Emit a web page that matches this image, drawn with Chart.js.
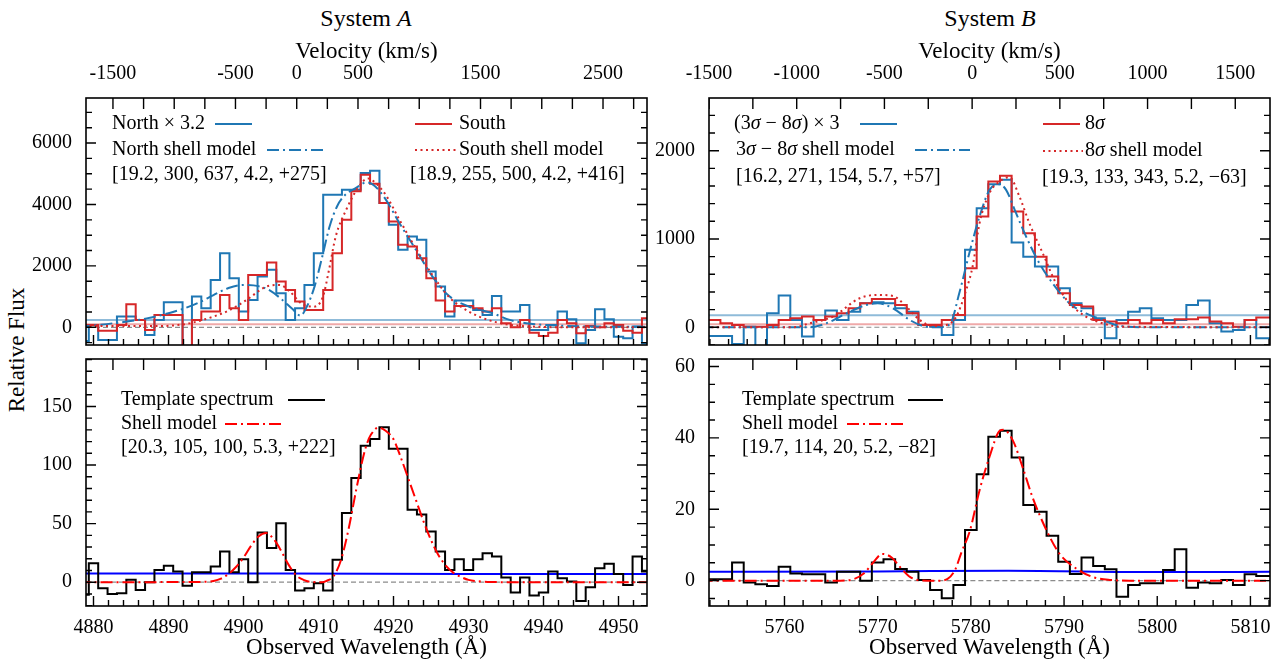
<!DOCTYPE html>
<html>
<head>
<meta charset="utf-8">
<script src="https://cdn.jsdelivr.net/npm/chart.js@4.4.0/dist/chart.umd.min.js"></script>
<style>
  body { margin: 0; background: #fff; width: 1288px; height: 662px; overflow: hidden; position: relative; font-family: 'Liberation Serif', serif; }
  canvas { position: absolute; left: 0; top: 0; }
  .lbl { position: absolute; font-size: 23px; color: #000; white-space: nowrap; transform: translate(-50%, -50%); }
</style>
</head>
<body>
<div class="lbl" style="left:366px;top:18px;font-size:24px">System <i>A</i></div>
<div class="lbl" style="left:990px;top:18px;font-size:24px">System <i>B</i></div>
<div class="lbl" style="left:17px;top:350px;transform:translate(-50%,-50%) rotate(-90deg)">Relative Flux</div>
<canvas id="aTop" width="1288" height="662"></canvas>
<canvas id="aBot" width="1288" height="662"></canvas>
<canvas id="bTop" width="1288" height="662"></canvas>
<canvas id="bBot" width="1288" height="662"></canvas>
<script>
// ---- System A : wavelength bins (1.25 A) ----
const waveA = [4878.75, 4880.00, 4881.25, 4882.50, 4883.75, 4885.00, 4886.25, 4887.50, 4888.75, 4890.00,
  4891.25, 4892.50, 4893.75, 4895.00, 4896.25, 4897.50, 4898.75, 4900.00, 4901.25, 4902.50,
  4903.75, 4905.00, 4906.25, 4907.50, 4908.75, 4910.00, 4911.25, 4912.50, 4913.75, 4915.00,
  4916.25, 4917.50, 4918.75, 4920.00, 4921.25, 4922.50, 4923.75, 4925.00, 4926.25, 4927.50,
  4928.75, 4930.00, 4931.25, 4932.50, 4933.75, 4935.00, 4936.25, 4937.50, 4938.75, 4940.00,
  4941.25, 4942.50, 4943.75, 4945.00, 4946.25, 4947.50, 4948.75, 4950.00, 4951.25, 4952.50,
  4953.75, 4955.00];
const northA = [-450, 76, -413, -413, 348, 348, 238, -250, 238, 815,
  815, -800, 1000, 620, 1544, 2414, 1600, 511, 892, 1653,
  1870, 1109, 239, 620, 1381, 2414, 4318, 4318, 4481, 4481,
  5025, 5100, 4045, 3340, 2523, 2958, 2850, 1816, 1327, 348,
  870, 870, 565, 400, 1022, 511, 511, 729, -87, -87,
  76, 511, 261, -520, -87, 587, 261, -305, -360, 22,
  -520, -520];
const southA = [76, 76, -109, -109, 76, 750, 239, -87, 402, 402,
  402, -800, 239, 511, 511, 1055, 620, 239, 1707, 1707,
  2110, 1490, 1218, 837, 565, 565, 1218, 2414, 3502, 4427,
  4970, 4677, 4046, 3448, 2686, 2632, 2251, 1599, 870, 511,
  696, 696, 620, 511, 620, 130, 0, 239, -174, -283,
  -174, 239, 130, -196, 43, 0, 130, 76, -109, -174,
  294, 294];
const templateA = [-10.8, 16.2, -5.1, -10, -9.4, 2.0, -6.6, 0, 10.5, 14,
  9.1, -3.1, 8.5, 8.5, 13.4, 26.2, 8.5, 19.7, 0, 42.5,
  29.1, 50.4, 10.5, -7.1, -5.1, -0.9, -7.1, 19.1, 59, 88.9,
  116.5, 122.2, 132.2, 114, 114, 61.8, 57.8, 43.3, 26.2, 10.5,
  19.7, 10.5, 19.7, 24.8, 21.9, 4.0, -8.8, 4.0, -11.4, -8.8,
  9.1, 3.4, 0.6, -16, -4.3, 12, 15.7, 7.1, -2.3, 21.9,
  9.1, 9.1];
const northShellA = [[4878, 10], [4882.6, 130], [4887.1, 290], [4891.5, 565], [4894, 800], [4896, 1050], [4898, 1280],
  [4900, 1380], [4902, 1340], [4903.5, 1200], [4905, 930], [4906.5, 600], [4907.6, 380], [4908.5, 700], [4909.5, 1350],
  [4910.5, 2300], [4911.5, 3300], [4912.5, 3950], [4913.5, 4300], [4915, 4540], [4916.4, 4720], [4917.5, 4600],
  [4919, 4150], [4920.8, 3390], [4923, 2520], [4925.2, 1650], [4927.5, 1000], [4930.1, 670], [4933.2, 460],
  [4935.5, 240], [4937.7, 130], [4940.3, 75], [4945, 30], [4955, 15]];
const southShellA = [[4878, 40], [4889, 40], [4891.5, 80], [4893, 140], [4896, 350], [4898.2, 565], [4900.4, 890],
  [4903.1, 1330], [4904.8, 1380], [4906.2, 1160], [4907.7, 780], [4909.3, 670], [4910.6, 1000], [4911.4, 1870],
  [4912.3, 2960], [4913.7, 3830], [4915.4, 4590], [4916.6, 4850], [4917.6, 4700], [4919, 4300], [4920.8, 3500],
  [4923, 2560], [4925.2, 1700], [4927.5, 960], [4930, 520], [4932.5, 250], [4935, 100], [4938.8, 20],
  [4945, 0], [4955, 0]];
const templShellA = [[4878, 0], [4895, 0.3], [4896, 1], [4897, 3], [4898, 7], [4899, 13], [4900, 21], [4901, 31],
  [4902, 39], [4903, 42], [4904, 37], [4905, 27], [4906, 15], [4907, 6], [4908, 2], [4909, 0.3], [4910.5, 0],
  [4911, 1], [4912, 5], [4913, 19], [4914, 45], [4915, 78], [4916, 108], [4916.5, 119], [4917, 126], [4918, 132],
  [4919, 129], [4920, 122], [4921, 106], [4922, 88], [4923, 70], [4924, 52], [4925, 36], [4926, 23], [4927, 14],
  [4928, 8], [4929, 4.5], [4930, 2], [4931, 1], [4933, 0.2], [4936, 0], [4955, 0]];
const blueContA = [[4878, 7.4], [4905, 7.4], [4930, 7.0], [4955, 7.1]];
const northLevelA = 240, southLevelA = 100;

// ---- System B ----
const waveB = [5751.25, 5752.50, 5753.75, 5755.00, 5756.25, 5757.50, 5758.75, 5760.00, 5761.25, 5762.50,
  5763.75, 5765.00, 5766.25, 5767.50, 5768.75, 5770.00, 5771.25, 5772.50, 5773.75, 5775.00,
  5776.25, 5777.50, 5778.75, 5780.00, 5781.25, 5782.50, 5783.75, 5785.00, 5786.25, 5787.50,
  5788.75, 5790.00, 5791.25, 5792.50, 5793.75, 5795.00, 5796.25, 5797.50, 5798.75, 5800.00,
  5801.25, 5802.50, 5803.75, 5805.00, 5806.25, 5807.50, 5808.75, 5810.00, 5811.25, 5812.50];
const diffB = [-98, -98, -98, -190, 7, -350, 158, 359, 83, -106,
  83, 189, 83, 177, 272, 283, 272, 215, 177, 26,
  7, -87, 83, 877, 1349, 1621, 1670, 960, 800, 687,
  687, 442, 272, 215, 102, -125, 83, 177, 215, 102,
  83, 83, 253, 302, 45, -49, -31, 83, -125, -125];
const sig8B = [83, 83, 45, 26, 7, 7, 26, 83, 102, 121,
  83, 121, 158, 215, 272, 321, 321, 253, 158, 26,
  26, 83, 140, 669, 1254, 1651, 1715, 1311, 1066, 800,
  574, 385, 253, 234, 83, 64, 45, 83, 45, 83,
  45, 91, 91, 110, 64, 45, 7, 83, 110, 110];
const templateB = [0.4, 0.4, 0.4, 5.1, -0.5, -1.0, -1.5, 3.9, 2.0, 1.8,
  1.8, -0.5, 2.5, 2.5, 0, 5.1, 6.0, 3.3, 2.5, 0.2,
  -2.6, -4.9, -1.2, 14.2, 29.8, 40.3, 42, 34.5, 21.2, 19.3,
  12.6, 5.3, 1.9, 6.5, 4.1, 3.2, -4.5, -1.2, -0.7, -0.7,
  3.0, 8.8, -2.0, -0.5, -0.7, 0.2, -1.2, 1.8, 1.3, 1.3];
const diffShellB = [[5751, 0], [5762.7, 0], [5764.5, 45], [5766.65, 158], [5768.8, 253], [5770.0, 272], [5771.64, 215],
  [5773.43, 83], [5774.85, 15], [5776.29, 0], [5777.71, 30], [5778.79, 400], [5779.86, 850], [5780.93, 1254],
  [5782.0, 1556], [5783.07, 1620], [5783.78, 1556], [5784.85, 1292], [5785.93, 1027], [5787.35, 725],
  [5788.78, 498], [5790.57, 272], [5792.35, 158], [5794.14, 83], [5795.57, 26], [5798.42, 0], [5813, 0]];
const sig8ShellB = [[5751, 0], [5761, 0], [5762.7, 45], [5765.2, 121], [5768.07, 329], [5770.22, 366], [5771.64, 355],
  [5773.08, 234], [5774.5, 83], [5775.93, 15], [5777.36, 26], [5778.43, 121], [5779.5, 423], [5780.21, 700],
  [5780.93, 1178], [5782.0, 1519], [5783.07, 1651], [5784.14, 1700], [5785.21, 1481], [5786.28, 1178],
  [5787.71, 839], [5789.14, 498], [5790.57, 272], [5792.35, 121], [5794.14, 45], [5795.92, 7], [5813, 0]];
const templShellB = [[5751, 0], [5766, 0], [5767.5, 0.5], [5768.5, 2], [5769.5, 5], [5770.5, 7.5], [5771.5, 6.5],
  [5772.5, 3.5], [5773.5, 1], [5774.5, 0.1], [5776.5, 0], [5777.5, 0.5], [5778.3, 3], [5779, 8], [5779.9, 14],
  [5780.9, 25], [5782, 34.7], [5783.1, 42], [5783.5, 42.3], [5784.5, 39.3], [5785.6, 31.4], [5786.6, 23.5],
  [5788.1, 14.2], [5789.5, 7.6], [5791.3, 3.4], [5793, 1.1], [5795, 0.2], [5797, 0], [5813, 0]];
const blueContB = [[5751, 2.5], [5770, 2.6], [5784, 2.8], [5800, 2.4], [5813, 2.5]];
const diffLevelB = 135, sig8LevelB = 35;

// ---- axes ----
const waveRangeA = [4879.0, 4953.8], waveRangeB = [5751.9, 5812.1];
const velRangeA = [-1720, 2859], velRangeB = [-1500, 1698];
const waveTicksA = [4880, 4890, 4900, 4910, 4920, 4930, 4940, 4950];
const waveTicksB = [5760, 5770, 5780, 5790, 5800, 5810];
const velTicksA = [-1500, -500, 0, 500, 1500, 2500];
const velTicksB = [-1500, -1000, -500, 0, 500, 1000, 1500];
const fluxTicksATop = [0, 2000, 4000, 6000], fluxTicksABot = [0, 50, 100, 150];
const fluxTicksBTop = [0, 1000, 2000], fluxTicksBBot = [0, 20, 40, 60];

const FONT = "'Liberation Serif', serif";
Chart.defaults.font.family = FONT;
Chart.defaults.color = '#000';
const BLUE = '#1f77b4', RED = '#d62728';
const DASHDOT = [12, 4, 2, 4], DOT = [2, 3.5];
const AREA_W = 561, AREA_H = 247;

const pts = (xs, ys) => xs.map((x, i) => ({x, y: ys[i]}));
const pairs = p => p.map(q => ({x: q[0], y: q[1]}));
const flat = (r, y) => [{x: r[0] - 2, y}, {x: r[1] + 2, y}];

function stepDs(xs, ys, color, order) {
  return {data: pts(xs, ys), borderColor: color, borderWidth: 2, stepped: 'middle', pointRadius: 0, order};
}
function curveDs(p, color, dash, order) {
  return {data: pairs(p), borderColor: color, borderWidth: 2, borderDash: dash, pointRadius: 0,
    cubicInterpolationMode: 'monotone', order};
}
function zeroDs(r, order) {
  return {data: flat(r, 0), borderColor: '#8c8c8c', borderWidth: 1.2, borderDash: [5, 3], pointRadius: 0, order};
}
function levelDs(r, y, color, order) {
  return {data: flat(r, y), borderColor: color, borderWidth: 2, pointRadius: 0, order};
}

// inward tick marks on all four sides, as short segments in data units, broken by gaps
function tickDs(o) {
  const [x0, x1] = o.xr, [y0, y1] = o.yr, [v0, v1] = o.vr;
  const ux = (x1 - x0) / AREA_W, uy = (y1 - y0) / AREA_H;
  const d = [];
  for (let k = Math.ceil(x0 / o.xStep); k * o.xStep <= x1; k++) {
    const x = k * o.xStep, len = (k % o.xMajor === 0 ? 10 : 6) * uy;
    d.push({x, y: y0}, {x, y: y0 + len}, {x, y: null});
  }
  for (let k = Math.ceil(v0 / 250); k * 250 <= v1; k++) {
    const x = x0 + (k * 250 - v0) / (v1 - v0) * (x1 - x0);
    d.push({x, y: y1}, {x, y: y1 - 11 * uy}, {x, y: null});
  }
  for (let k = Math.ceil(y0 / o.yStep); k * o.yStep <= y1; k++) {
    const y = k * o.yStep, len = (k % o.yMajor === 0 ? 10 : 6) * ux;
    d.push({x: x0, y}, {x: x0 + len, y}, {x: x0, y: null});
    d.push({x: x1, y}, {x: x1 - len, y}, {x: x1, y: null});
  }
  return {data: d, borderColor: '#000000', borderWidth: 1.4, pointRadius: 0, spanGaps: false, order: -1};
}

// legend text and the box round the plot area
function decorations(items) {
  return {
    id: 'decorations',
    afterDraw(chart) {
      const ctx = chart.ctx;
      const a = chart.chartArea;
      ctx.save();
      ctx.textBaseline = 'middle';
      ctx.textAlign = 'left';
      ctx.fillStyle = '#000';
      for (const it of items) {
        if (it.sample) {
          ctx.strokeStyle = it.sample.color;
          ctx.lineWidth = 2;
          ctx.setLineDash(it.sample.dash);
          ctx.beginPath(); ctx.moveTo(it.sample.x1, it.y); ctx.lineTo(it.sample.x2, it.y); ctx.stroke();
        }
        let x = it.x;
        for (const [txt, ital] of it.parts) {
          ctx.font = (ital ? 'italic ' : '') + '20px ' + FONT;
          ctx.fillText(txt, x, it.y);
          x += ctx.measureText(txt).width;
        }
      }
      ctx.restore();
      ctx.save();
      ctx.setLineDash([]);
      ctx.strokeStyle = '#000000';
      ctx.lineWidth = 1.6;
      ctx.strokeRect(a.left, a.top, a.right - a.left, a.bottom - a.top);
      ctx.restore();
    }
  };
}

function panel(id, o) {
  const top = o.top;
  const [l, t, r, b] = o.area;
  const noComma = v => String(v);
  const datasets = o.datasets.concat([tickDs({xr: o.xr, vr: o.vr, yr: o.yr, ...o.tk})]);
  new Chart(document.getElementById(id), {
    type: 'line',
    data: {datasets},
    options: {
      responsive: false, animation: false, devicePixelRatio: 1, events: [],
      layout: {padding: {left: l - 70, right: 1288 - r, top: top ? t - 62 : t, bottom: top ? 662 - b : 662 - b - 56}},
      plugins: {legend: {display: false}, tooltip: {enabled: false}},
      scales: {
        x: {type: 'linear', min: o.xr[0], max: o.xr[1], display: !top,
          grid: {display: false}, border: {display: false},
          afterBuildTicks: s => { s.ticks = o.xTicks.map(v => ({value: v})); },
          afterFit: s => { s.height = top ? 0 : 56; },
          ticks: {font: {size: 20}, padding: 2, maxRotation: 0, autoSkip: false, callback: noComma},
          title: {display: true, text: 'Observed Wavelength (Å)', font: {size: 23}, padding: {top: 0, bottom: 0}}},
        y: {type: 'linear', min: o.yr[0], max: o.yr[1],
          grid: {display: false}, border: {display: false},
          afterBuildTicks: s => { s.ticks = o.yTicks.map(v => ({value: v})); },
          afterFit: s => { s.width = 70; },
          ticks: {font: {size: 20}, padding: 6, callback: noComma}},
        v: {type: 'linear', axis: 'x', position: 'top', min: o.vr[0], max: o.vr[1], display: top,
          grid: {display: false}, border: {display: false},
          afterBuildTicks: s => { s.ticks = o.vTicks.map(v => ({value: v})); },
          afterFit: s => { s.height = top ? 62 : 0; },
          ticks: {font: {size: 20}, padding: 4, maxRotation: 0, autoSkip: false, callback: noComma},
          title: {display: true, text: 'Velocity (km/s)', font: {size: 23}, padding: {top: 2, bottom: 0}}}
      }
    },
    plugins: [decorations(o.legend)]
  });
}

panel('aTop', {
  top: true, area: [86, 98, 647, 345], xr: waveRangeA, yr: [-577, 7468], vr: velRangeA,
  xTicks: waveTicksA, yTicks: fluxTicksATop, vTicks: velTicksA,
  tk: {xStep: 2, xMajor: 5, yStep: 500, yMajor: 4},
  datasets: [
    curveDs(southShellA, RED, DOT, 0),
    curveDs(northShellA, BLUE, DASHDOT, 1),
    stepDs(waveA, southA, RED, 2),
    stepDs(waveA, northA, BLUE, 3),
    zeroDs(waveRangeA, 4),
    levelDs(waveRangeA, southLevelA, 'rgba(214,39,40,0.4)', 5),
    levelDs(waveRangeA, northLevelA, 'rgba(31,119,180,0.5)', 6)
  ],
  legend: [
    {x: 112, y: 124, parts: [['North × 3.2']], sample: {x1: 215, x2: 252, color: BLUE, dash: []}},
    {x: 112, y: 150, parts: [['North shell model']], sample: {x1: 267, x2: 323, color: BLUE, dash: DASHDOT}},
    {x: 112, y: 175, parts: [['[19.2, 300, 637, 4.2, +275]']]},
    {x: 459, y: 124, parts: [['South']], sample: {x1: 415, x2: 452, color: RED, dash: []}},
    {x: 459, y: 150, parts: [['South shell model']], sample: {x1: 415, x2: 457, color: RED, dash: DOT}},
    {x: 410, y: 175, parts: [['[18.9, 255, 500, 4.2, +416]']]}
  ]
});

panel('aBot', {
  top: false, area: [86, 359, 647, 606], xr: waveRangeA, yr: [-20.3, 190.5], vr: velRangeA,
  xTicks: waveTicksA, yTicks: fluxTicksABot, vTicks: velTicksA,
  tk: {xStep: 2, xMajor: 5, yStep: 10, yMajor: 5},
  datasets: [
    curveDs(templShellA, '#ff0000', DASHDOT, 0),
    stepDs(waveA, templateA, '#000000', 1),
    curveDs(blueContA, '#0000ff', [], 2),
    zeroDs(waveRangeA, 3)
  ],
  legend: [
    {x: 121, y: 400, parts: [['Template spectrum']], sample: {x1: 288, x2: 325, color: '#000', dash: []}},
    {x: 121, y: 424, parts: [['Shell model']], sample: {x1: 225, x2: 283, color: '#ff0000', dash: DASHDOT}},
    {x: 121, y: 448, parts: [['[20.3, 105, 100, 5.3, +222]']]}
  ]
});

panel('bTop', {
  top: true, area: [709, 98, 1270, 345], xr: waveRangeB, yr: [-201, 2597], vr: velRangeB,
  xTicks: waveTicksB, yTicks: fluxTicksBTop, vTicks: velTicksB,
  tk: {xStep: 2, xMajor: 5, yStep: 200, yMajor: 5},
  datasets: [
    curveDs(sig8ShellB, RED, DOT, 0),
    curveDs(diffShellB, BLUE, DASHDOT, 1),
    stepDs(waveB, sig8B, RED, 2),
    stepDs(waveB, diffB, BLUE, 3),
    zeroDs(waveRangeB, 4),
    levelDs(waveRangeB, sig8LevelB, 'rgba(214,39,40,0.4)', 5),
    levelDs(waveRangeB, diffLevelB, 'rgba(31,119,180,0.5)', 6)
  ],
  legend: [
    {x: 734, y: 124, parts: [['(3'], ['σ', true], [' − 8'], ['σ', true], [') × 3']], sample: {x1: 860, x2: 897, color: BLUE, dash: []}},
    {x: 736, y: 150, parts: [['3'], ['σ', true], [' − 8'], ['σ', true], [' shell model']], sample: {x1: 915, x2: 970, color: BLUE, dash: DASHDOT}},
    {x: 736, y: 177, parts: [['[16.2, 271, 154, 5.7, +57]']]},
    {x: 1085, y: 124, parts: [['8'], ['σ', true]], sample: {x1: 1043, x2: 1080, color: RED, dash: []}},
    {x: 1085, y: 151, parts: [['8'], ['σ', true], [' shell model']], sample: {x1: 1043, x2: 1083, color: RED, dash: DOT}},
    {x: 1042, y: 178, parts: [['[19.3, 133, 343, 5.2, −63]']]}
  ]
});

panel('bBot', {
  top: false, area: [709, 359, 1270, 606], xr: waveRangeB, yr: [-7.1, 62.1], vr: velRangeB,
  xTicks: waveTicksB, yTicks: fluxTicksBBot, vTicks: velTicksB,
  tk: {xStep: 2, xMajor: 5, yStep: 5, yMajor: 4},
  datasets: [
    curveDs(templShellB, '#ff0000', DASHDOT, 0),
    stepDs(waveB, templateB, '#000000', 1),
    curveDs(blueContB, '#0000ff', [], 2),
    zeroDs(waveRangeB, 3)
  ],
  legend: [
    {x: 742, y: 400, parts: [['Template spectrum']], sample: {x1: 908, x2: 943, color: '#000', dash: []}},
    {x: 742, y: 424, parts: [['Shell model']], sample: {x1: 847, x2: 905, color: '#ff0000', dash: DASHDOT}},
    {x: 742, y: 448, parts: [['[19.7, 114, 20, 5.2, −82]']]}
  ]
});
</script>
</body>
</html>
